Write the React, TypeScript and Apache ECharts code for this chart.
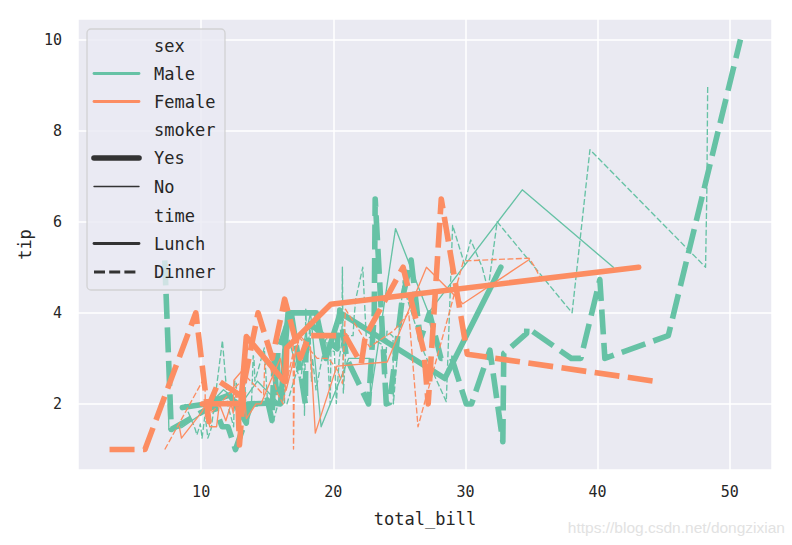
import React, { useEffect, useRef } from "react";
import * as echarts from "echarts";

// tips dataset, grouped by sex / smoker / time, sorted by total_bill (duplicate x averaged)
const maleYesLunch: [number, number][] = [
  [8.58, 1.92], [10.34, 2.0], [12.16, 2.2], [13.42, 1.58], [13.51, 2.0], [15.48, 2.02],
  [16.0, 2.0], [16.58, 4.0], [18.71, 4.0], [19.44, 3.0], [20.53, 4.0], [28.44, 2.56], [32.68, 5.0],
];
const maleYesDinner: [number, number][] = [
  [7.25, 5.15], [7.74, 1.44], [11.02, 1.98], [11.24, 1.76], [11.59, 1.5], [12.03, 1.5],
  [12.6, 1.0], [13.81, 2.0], [14.48, 2.0], [15.01, 2.09], [15.36, 1.64], [15.53, 3.0],
  [15.69, 2.25], [15.81, 3.16], [16.82, 4.0], [17.89, 2.0], [17.92, 3.08], [18.29, 3.76],
  [20.29, 3.21], [20.49, 4.06], [21.01, 3.0], [22.67, 2.0], [23.1, 4.0], [23.17, 6.5],
  [23.33, 5.65], [24.01, 2.0], [24.27, 2.03], [25.21, 4.29], [25.89, 5.16], [26.59, 3.41],
  [27.28, 4.0], [28.15, 3.0], [28.97, 3.0], [30.06, 2.0], [30.46, 2.0], [31.85, 3.18],
  [32.83, 1.17], [32.9, 3.11], [34.63, 3.55], [34.65, 3.68], [38.01, 3.0], [38.73, 3.0],
  [40.17, 4.73], [40.55, 3.0], [45.35, 3.5], [50.81, 10.0],
];
const maleNoLunch: [number, number][] = [
  [7.51, 2.0], [7.56, 1.44], [8.52, 1.48], [9.78, 1.73], [11.69, 2.31], [13.03, 2.0],
  [14.26, 2.5], [15.95, 2.0], [15.98, 2.03], [16.66, 3.4], [17.29, 2.71], [18.28, 4.0],
  [19.08, 1.5], [21.16, 3.0], [22.76, 3.0], [22.82, 2.18], [24.71, 5.85], [27.2, 4.0],
  [34.3, 6.7], [41.19, 5.0],
];
const maleNoDinner: [number, number][] = [
  [8.77, 2.0], [9.55, 1.45], [9.68, 1.32], [9.94, 1.56], [10.07, 1.25], [10.27, 1.71],
  [10.34, 1.66], [10.51, 1.25], [10.77, 1.47], [11.61, 3.39], [12.02, 1.97], [12.46, 1.5],
  [12.54, 2.5], [12.66, 2.5], [12.69, 2.0], [13.13, 2.0], [13.28, 2.72], [13.37, 2.0],
  [13.81, 2.0], [13.94, 3.06], [14.0, 3.0], [14.07, 2.5], [14.78, 3.23], [15.04, 1.96],
  [15.42, 1.57], [16.04, 2.24], [16.29, 3.71], [16.31, 2.0], [16.49, 2.0], [17.26, 2.74],
  [17.46, 2.54], [17.59, 2.64], [17.78, 3.27], [17.81, 2.34], [17.82, 1.75], [17.92, 4.08],
  [18.04, 3.0], [18.24, 3.76], [18.29, 3.0], [18.35, 2.5], [18.43, 3.0], [18.69, 2.31],
  [19.49, 3.51], [19.77, 2.0], [19.82, 3.18], [20.08, 3.15], [20.23, 2.01], [20.45, 3.0],
  [20.65, 3.35], [20.69, 5.0], [20.76, 2.24], [21.01, 3.5], [21.5, 3.5], [21.58, 3.92],
  [21.7, 4.3], [22.23, 5.0], [22.49, 3.5], [23.68, 3.31], [23.95, 2.55], [24.06, 3.6],
  [24.52, 3.48], [24.55, 2.0], [25.29, 4.71], [25.56, 4.34], [26.88, 3.12], [28.55, 2.05],
  [29.03, 5.92], [29.93, 5.07], [30.4, 5.6], [31.27, 5.0], [31.71, 4.5], [32.4, 6.0],
  [38.07, 4.0], [39.42, 7.58], [48.17, 5.0], [48.27, 6.73], [48.33, 9.0],
];
const femaleYesLunch: [number, number][] = [
  [10.09, 2.0], [12.74, 2.01], [13.0, 2.0], [13.42, 3.48], [16.27, 2.5], [16.4, 2.5],
  [16.47, 3.23], [19.81, 4.19], [43.11, 5.0],
];
const femaleYesDinner: [number, number][] = [
  [3.07, 1.0], [5.75, 1.0], [9.6, 4.0], [10.59, 1.61], [10.63, 2.0], [11.35, 2.5],
  [12.76, 2.23], [12.9, 1.1], [13.27, 2.5], [14.31, 4.0], [15.38, 3.0], [16.32, 4.3],
  [17.51, 3.0], [18.15, 3.5], [20.9, 3.5], [22.12, 2.88], [22.42, 3.48], [25.28, 5.0],
  [26.86, 3.14], [27.18, 2.0], [28.17, 6.5], [30.14, 3.09], [44.3, 2.5],
];
const femaleNoLunch: [number, number][] = [
  [8.35, 1.5], [8.51, 1.25], [10.07, 1.83], [10.33, 2.0], [10.65, 1.5], [11.17, 1.5],
  [11.38, 2.0], [11.87, 1.63], [12.26, 2.0], [12.43, 1.8], [12.48, 2.52], [13.16, 2.75],
  [13.42, 1.68], [14.15, 2.0], [14.52, 2.0], [15.98, 3.0], [16.43, 2.3], [17.47, 3.5],
  [18.26, 3.25], [18.64, 1.36], [20.27, 2.83], [24.08, 2.92], [27.05, 5.0], [29.8, 4.2],
  [34.83, 5.17],
];
const femaleNoDinner: [number, number][] = [
  [7.25, 1.0], [10.29, 2.6], [10.33, 1.67], [13.39, 2.61], [14.73, 2.2], [14.83, 3.02],
  [15.06, 3.0], [15.77, 2.23], [16.21, 2.0], [16.45, 2.47], [16.93, 3.07], [16.97, 3.5],
  [16.99, 1.01], [17.07, 3.0], [17.31, 3.5], [18.78, 3.0], [19.65, 3.0], [20.29, 2.75],
  [20.69, 2.45], [20.92, 4.08], [22.75, 3.25], [24.59, 3.61], [25.0, 3.75], [25.71, 4.0],
  [26.41, 1.5], [29.85, 5.14], [34.81, 5.2], [35.26, 5.0], [35.83, 4.67],
];

const X_MIN = 0.683;
const X_MAX = 53.197;
const Y_MIN = 0.55;
const Y_MAX = 10.45;

const GREEN = "#66c2a5";
const ORANGE = "#fc8d62";
const DARK = "#333333";
const TEXT = "#262626";
const FONT = "'DejaVu Sans Mono', monospace";

const THICK = 5.6;
const THIN = 1.35;

function mkSeries(name: string, data: [number, number][], color: string, thick: boolean, dashed: boolean) {
  const w = thick ? THICK : THIN;
  return {
    type: "line",
    name,
    data,
    showSymbol: false,
    symbol: "none",
    silent: true,
    clip: true,
    itemStyle: { color },
    lineStyle: {
      color,
      width: w,
      type: dashed ? (thick ? [25, 8.5] : [6, 2.4]) : "solid",
      cap: dashed ? "butt" : "round",
      join: "round",
    },
    emphasis: { disabled: true },
  };
}

function legendGraphics() {
  const els: any[] = [];
  els.push({
    type: "rect",
    shape: { x: 87, y: 29, width: 138, height: 261, r: 4 },
    style: { fill: "rgba(234,234,242,0.8)", stroke: "rgba(204,204,204,0.8)", lineWidth: 1.3 },
    z: 100,
  });
  const rows: { label: string; y: number; color?: string; width?: number; dash?: number[] }[] = [
    { label: "sex", y: 46 },
    { label: "Male", y: 73.5, color: GREEN, width: 2.8 },
    { label: "Female", y: 101.5, color: ORANGE, width: 2.8 },
    { label: "smoker", y: 130 },
    { label: "Yes", y: 158, color: DARK, width: THICK },
    { label: "No", y: 186.5, color: DARK, width: THIN },
    { label: "time", y: 215.5 },
    { label: "Lunch", y: 243.5, color: DARK, width: 2.8 },
    { label: "Dinner", y: 272, color: DARK, width: 2.8, dash: [11, 4.2] },
  ];
  rows.forEach((r) => {
    if (r.color) {
      els.push({
        type: "line",
        shape: { x1: 94, y1: r.y, x2: 139, y2: r.y },
        style: {
          stroke: r.color,
          lineWidth: r.width,
          lineDash: r.dash || null,
          lineCap: r.dash ? "butt" : "round",
        },
        z: 101,
      });
    }
    els.push({
      type: "text",
      x: 154,
      y: r.y,
      style: {
        text: r.label,
        fill: TEXT,
        font: `17px ${FONT}`,
        align: "left",
        verticalAlign: "middle",
      },
      z: 101,
    });
  });
  els.push({
    type: "text",
    x: 785,
    y: 527,
    style: {
      text: "https://blog.csdn.net/dongzixian",
      fill: "#e2e2e2",
      font: "15.5px 'Liberation Sans', Arial, sans-serif",
      align: "right",
      verticalAlign: "middle",
    },
    z: 101,
  });
  return els;
}

export default function App() {
  const ref = useRef<HTMLDivElement>(null);
  useEffect(() => {
    if (!ref.current) return;
    const chart = echarts.init(ref.current, null, { renderer: "svg" });
    chart.setOption({
      animation: false,
      backgroundColor: "#ffffff",
      grid: {
        left: 78,
        top: 19,
        width: 694,
        height: 451,
        show: true,
        backgroundColor: "#eaeaf2",
        borderWidth: 0,
        containLabel: false,
      },
      xAxis: {
        type: "value",
        min: X_MIN,
        max: X_MAX,
        splitNumber: 5,
        axisLine: { show: false },
        axisTick: { show: false },
        axisLabel: {
          color: TEXT,
          fontSize: 15,
          fontFamily: FONT,
          margin: 14,
          showMinLabel: false,
          showMaxLabel: false,
        },
        splitLine: { show: true, lineStyle: { color: "#ffffff", width: 1.5 } },
        name: "total_bill",
        nameLocation: "middle",
        nameGap: 40,
        nameTextStyle: { color: TEXT, fontSize: 17, fontFamily: FONT },
      },
      yAxis: {
        type: "value",
        min: Y_MIN,
        max: Y_MAX,
        splitNumber: 5,
        axisLine: { show: false },
        axisTick: { show: false },
        axisLabel: {
          color: TEXT,
          fontSize: 15,
          fontFamily: FONT,
          margin: 16,
          showMinLabel: false,
          showMaxLabel: false,
        },
        splitLine: { show: true, lineStyle: { color: "#ffffff", width: 1.5 } },
        name: "tip",
        nameLocation: "middle",
        nameGap: 43,
        nameRotate: 90,
        nameTextStyle: { color: TEXT, fontSize: 17, fontFamily: FONT },
      },
      series: [
        mkSeries("Male Yes Lunch", maleYesLunch, GREEN, true, false),
        mkSeries("Male Yes Dinner", maleYesDinner, GREEN, true, true),
        mkSeries("Male No Lunch", maleNoLunch, GREEN, false, false),
        mkSeries("Male No Dinner", maleNoDinner, GREEN, false, true),
        mkSeries("Female Yes Lunch", femaleYesLunch, ORANGE, true, false),
        mkSeries("Female Yes Dinner", femaleYesDinner, ORANGE, true, true),
        mkSeries("Female No Lunch", femaleNoLunch, ORANGE, false, false),
        mkSeries("Female No Dinner", femaleNoDinner, ORANGE, false, true),
      ],
      graphic: legendGraphics(),
    });
    return () => chart.dispose();
  }, []);
  return (
    <div
      ref={ref}
      style={{ position: "fixed", left: 0, top: 0, width: 792, height: 545, background: "#fff" }}
    />
  );
}
